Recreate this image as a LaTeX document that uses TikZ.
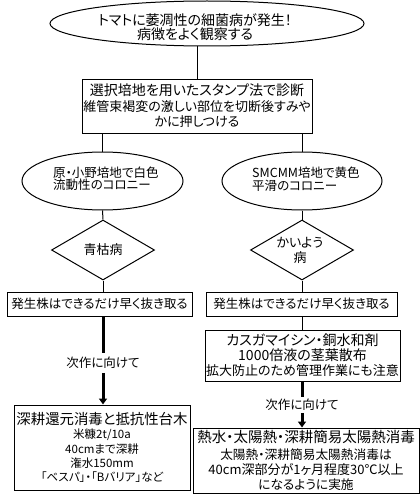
\documentclass[tikz,border=0pt]{standalone}
\usepackage{fontspec}
\setmainfont{Noto Sans CJK JP}[RawFeature={+palt}]
\usetikzlibrary{shapes.geometric,arrows.meta}
\newcommand\jfs[2]{\fontsize{#1}{#2}\selectfont}
\tikzset{
  box/.style={draw, line width=1pt, rectangle, inner sep=0pt, align=center},
  oval/.style={draw, line width=1pt, ellipse, inner sep=0pt},
  dia/.style={draw, line width=1pt, diamond, inner sep=0pt},
  txt/.style={inner sep=0pt, align=center},
  lbl/.style={inner sep=4pt, font=\jfs{12.5}{14}},
  conn/.style={line width=1pt},
  boldconn/.style={line width=3pt},
  boldarrow/.style={line width=3pt, -{Triangle[width=8pt,length=6pt]}}
}
\begin{document}
\begin{tikzpicture}[x=1pt,y=-1pt]
\useasboundingbox (0,0) rectangle (420,495);
% top ellipse
\node[oval, minimum width=314pt, minimum height=45pt] (e0) at (207,23.5) {};
\node[txt, font=\jfs{14}{13.5}] (t0) at (195,27) {トマトに萎凋性の細菌病が発生！\\病徴をよく観察する};
% diagnosis box
\node[box, minimum width=230pt, minimum height=54pt, font=\jfs{13}{15.5}] (b1) at (197,106)
  {{\jfs{14}{15.5}選択培地を用いたスタンプ法で診断}\\維管束褐変の激しい部位を切断後すみや\\かに押しつける};
% colony ellipses
\node[oval, minimum width=161pt, minimum height=58pt] (e1) at (102.5,181) {};
\node[txt, font=\jfs{12.5}{12.5}, align=left, anchor=west] (t1) at (53,179) {原・小野培地で白色\\流動性のコロニー};
\node[oval, minimum width=160pt, minimum height=58pt] (e2) at (302,181) {};
\node[txt, font=\jfs{12.5}{12.5}, align=left, anchor=west] (t2) at (252,179) {SMCMM培地で黄色\\平滑のコロニー};
% diamonds
\node[dia, minimum width=103pt, minimum height=60pt] (d1) at (103,250) {};
\node[txt, font=\jfs{13}{15}] (t3) at (103,250) {青枯病};
\node[dia, minimum width=103pt, minimum height=60pt] (d2) at (302,250) {};
\node[txt, font=\jfs{13}{15}] (t4) at (300,250.5) {かいよう\\病};
% remove plants
\node[box, minimum width=185pt, minimum height=24pt, font=\jfs{12.5}{14}] (f1) at (99.5,304) {発生株はできるだけ早く抜き取る};
\node[box, minimum width=191pt, minimum height=24pt, font=\jfs{12.5}{14}] (f2) at (301.5,304) {発生株はできるだけ早く抜き取る};
% spray box
\node[box, minimum width=195pt, minimum height=51pt, font=\jfs{13}{15}] (k) at (302.5,355.5)
  {{\jfs{14}{15}カスガマイシン・銅水和剤}\\{\jfs{14}{15}1000倍液の茎葉散布}\\拡大防止のため管理作業にも注意};
% labels
\node[lbl, inner sep=4pt] (l1) at (103,363) {次作に向けて};
\node[lbl, inner sep=2pt] (l2) at (302,405) {次作に向けて};
% final boxes
\node[box, minimum width=176pt, minimum height=85pt, font=\jfs{11.5}{14.2}] (g1) at (102,447.5)
  {{\jfs{14.4}{14.2}深耕還元消毒と抵抗性台木}\\米糠2t/10a\\40cmまで深耕\\潅水150mm\\「ベスパ」・「Bバリア」など};
\node[box, minimum width=226pt, minimum height=65pt, font=\jfs{12.7}{14.8}] (g2) at (306,460.5)
  {{\jfs{14.5}{14.8}熱水・太陽熱・深耕簡易太陽熱消毒}\\[2pt]太陽熱・深耕簡易太陽熱消毒は\\{\jfs{13}{14.8}40cm深部分が1ヶ月程度30℃以上}\\になるように実施};
% connectors
\draw[conn] (e0.south -| b1.north) -- (b1.north);
\draw[conn] (b1.south -| e1.north) -- (e1.north);
\draw[conn] (b1.south -| e2.north) -- (e2.north);
\draw[conn] (e1.south) -- (d1.north);
\draw[conn] (e2.south) -- (d2.north);
\draw[conn] (d1.south) -- (d1.south |- f1.north);
\draw[conn] (d2.south) -- (d2.south |- f2.north);
\draw[conn] (f2.south -| k.north) -- (k.north);
\draw[boldconn] (l1.north |- f1.south) -- (l1.north);
\draw[boldarrow] (l1.south) -- (l1.south |- g1.north);
\draw[boldconn] (l2.north |- k.south) -- (l2.north);
\draw[boldarrow] (l2.south) -- (l2.south |- g2.north);
\end{tikzpicture}
\end{document}
